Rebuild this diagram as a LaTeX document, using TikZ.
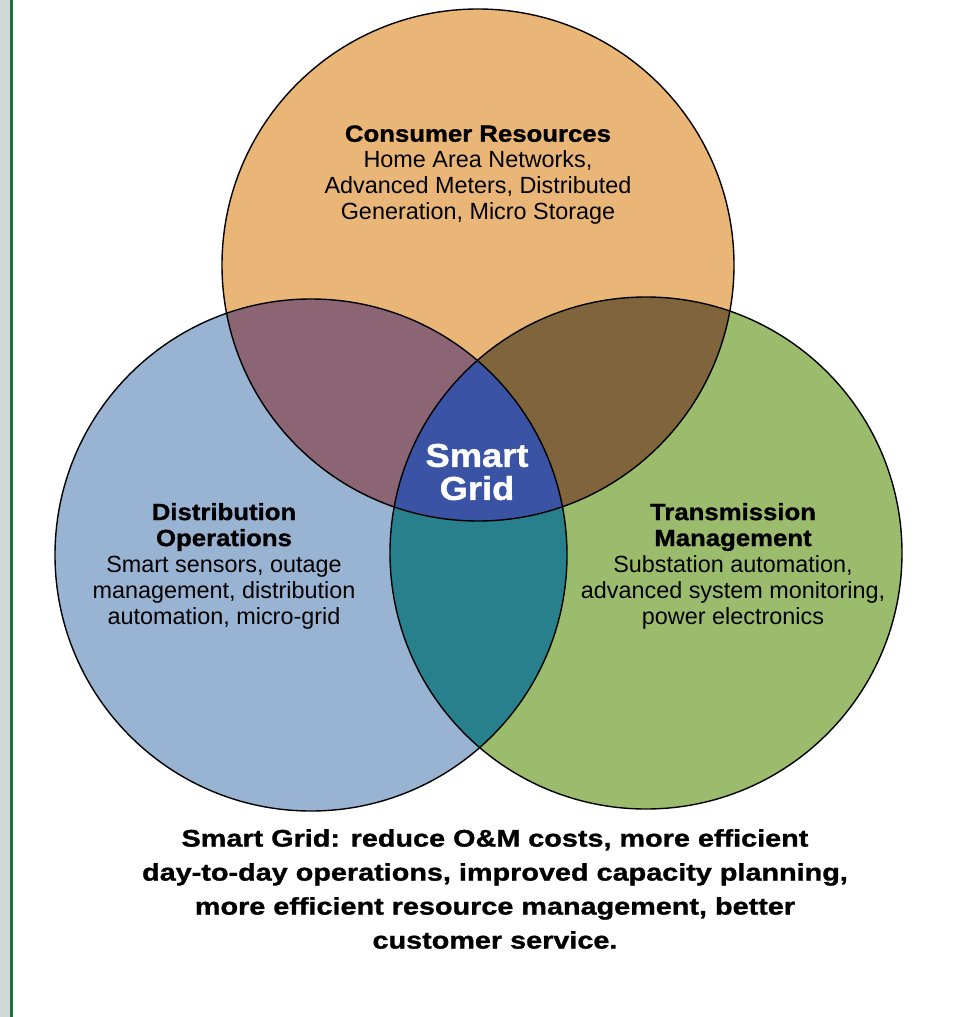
\documentclass[tikz,border=0pt]{standalone}
\usepackage{fontspec}
\setmainfont{Liberation Sans}
\newfontfamily\heavyfont{Liberation Sans Bold}[FakeBold=1.2, FakeStretch=1.1]
\newfontfamily\summaryfont{Liberation Sans Bold}[FakeBold=1.2, FakeStretch=1.2]
\definecolor{consumer}{HTML}{E9B677}
\definecolor{distrib}{HTML}{99B3D3}
\definecolor{transm}{HTML}{9BBB6D}
\definecolor{condist}{HTML}{8C6575}
\definecolor{contran}{HTML}{7F643C}
\definecolor{disttran}{HTML}{27808C}
\definecolor{core}{HTML}{3A53A4}
\definecolor{stripgray}{HTML}{CFD8D4}
\definecolor{stripgreen}{HTML}{1B7140}
\newcommand{\hd}[1]{{\heavyfont #1}}
\tikzset{
  ring/.style={draw=black, line width=1.4pt},
  blocktext/.style={align=center, inner sep=0pt, font=\fontsize{23.4}{26}\selectfont},
}
\begin{document}
\begin{tikzpicture}[x=1pt,y=-1pt]
\useasboundingbox (0,0) rectangle (966,1017);
\fill[white] (0,0) rectangle (966,1017);
% page edge
\fill[stripgray] (0,0) rectangle (10,1017);
\fill[stripgreen] (10,0) rectangle (12.5,1017);

% circle centres and radius
\def\R{256}
\coordinate (cC) at (478,265);
\coordinate (cD) at (311,555);
\coordinate (cT) at (646,553);

% base fills
\fill[distrib] (cD) circle[radius=\R];
\fill[transm]  (cT) circle[radius=\R];
\fill[consumer] (cC) circle[radius=\R];

% pairwise overlaps
\begin{scope}
  \clip (cC) circle[radius=\R];
  \fill[condist] (cD) circle[radius=\R];
\end{scope}
\begin{scope}
  \clip (cC) circle[radius=\R];
  \fill[contran] (cT) circle[radius=\R];
\end{scope}
\begin{scope}
  \clip (cD) circle[radius=\R];
  \fill[disttran] (cT) circle[radius=\R];
\end{scope}
% triple overlap
\begin{scope}
  \clip (cC) circle[radius=\R];
  \clip (cD) circle[radius=\R];
  \fill[core] (cT) circle[radius=\R];
\end{scope}

% outlines
\draw[ring] (cC) circle[radius=\R];
\draw[ring] (cD) circle[radius=\R];
\draw[ring] (cT) circle[radius=\R];

% labels
\node[blocktext] (consumerText) at (478,175)
  {\hd{Consumer Resources}\\Home Area Networks,\\Advanced Meters, Distributed\\Generation, Micro Storage};
\node[blocktext] (distText) at (224,566)
  {\hd{Distribution}\\\hd{Operations}\\Smart sensors, outage\\management, distribution\\automation, micro-grid};
\node[blocktext] (tranText) at (733,566)
  {\hd{Transmission}\\\hd{Management}\\Substation automation,\\advanced system monitoring,\\power electronics};
\node[align=center, inner sep=0pt, text=white, font=\fontsize{33}{33}\heavyfont] (coreText) at (477,472)
  {Smart\\Grid};
\node[align=center, inner sep=0pt, font=\fontsize{24}{34}\summaryfont] (summary) at (495,889)
  {Smart Grid: reduce O\&M costs, more efficient\\day-to-day operations, improved capacity planning,\\more efficient resource management, better\\customer service.};
\end{tikzpicture}
\end{document}
